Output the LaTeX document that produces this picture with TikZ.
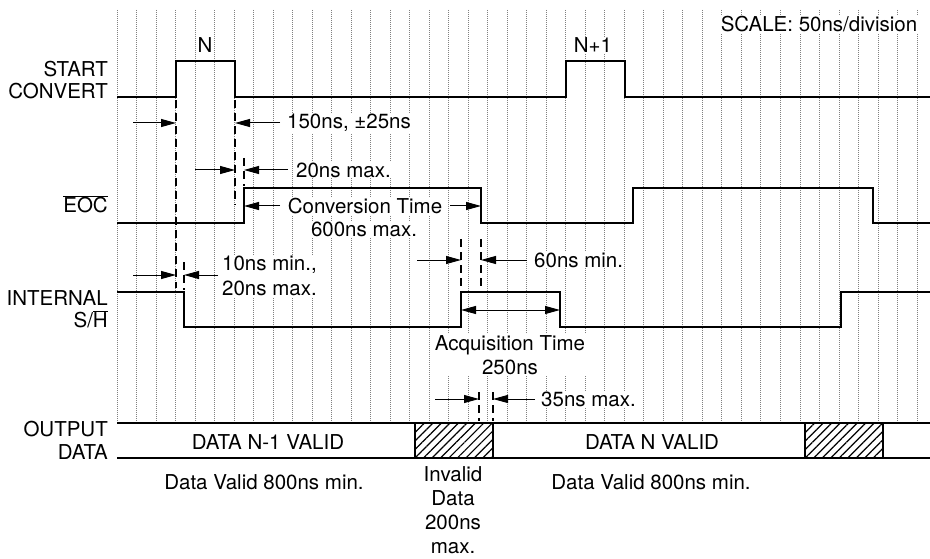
\documentclass[tikz,border=0pt]{standalone}
\usepackage{fontspec}
\setmainfont{TeX Gyre Heros}
\usetikzlibrary{arrows.meta,patterns.meta}
\begin{document}
\begin{tikzpicture}[x=1pt,y=-1pt,
  sig/.style={line width=1.3pt},
  gridln/.style={black!50, line width=0.7pt, dash pattern=on 0.8pt off 1.2pt},
  dsh/.style={line width=1.4pt, dash pattern=on 8pt off 5pt},
  arr/.style={line width=1pt, -{Triangle[length=15pt,width=8pt]}},
  lbl/.style={font=\fontsize{20.5}{22}\selectfont, inner sep=1pt},
  txt/.style={lbl, fill=white},
  hatch/.style={sig, pattern={Lines[angle=45,distance=6pt,line width=1.2pt]}},
  ]
\useasboundingbox (0,0) rectangle (930,559);

% grid
\foreach \i in {0,...,41} \draw[gridln] ({117+19.51*\i},10) -- ({117+19.51*\i},423);

% signals
\draw[sig] (117,97) -- (176,97) -- (176,61) -- (235,61) -- (235,97) -- (566,97) -- (566,61) -- (625,61) -- (625,97) -- (930,97);
\draw[sig] (117,223) -- (244,223) -- (244,188) -- (481,188) -- (481,223) -- (633,223) -- (633,188) -- (873,188) -- (873,223) -- (930,223);
\draw[sig] (117,292) -- (184,292) -- (184,327) -- (461,327) -- (461,292) -- (560,292) -- (560,327) -- (841,327) -- (841,292) -- (930,292);
\draw[sig] (117,423) -- (930,423);
\draw[sig] (117,458) -- (930,458);
\draw[hatch] (415,423) rectangle (493,458);
\draw[hatch] (805,423) rectangle (883,458);

% dashed markers
\draw[dsh] (176,100) -- (176,288);
\draw[dsh] (235,100) -- (235,205);
\draw[dsh] (244,158) -- (244,186);
\draw[dsh] (184,262) -- (184,290);
\draw[dsh] (461,239) -- (461,290);
\draw[dsh] (481,239) -- (481,290);
\draw[dsh] (479,392) -- (479,421);
\draw[dsh] (493,392) -- (493,421);

% row labels
\node[lbl, anchor=east, align=right] at (109,80) {START\\CONVERT};
\node[lbl, anchor=east] at (109,204) {$\overline{\hbox{EOC}}$};
\node[lbl, anchor=east, align=right] at (109,309) {INTERNAL\\S/$\overline{\hbox{H}}$};
\node[lbl, anchor=east, align=right, font=\fontsize{20.5}{23}\selectfont] at (109,440) {OUTPUT\\DATA};

% pulse labels
\node[txt] at (205,45) {N};
\node[txt] at (593,45) {N+1};
\node[txt] at (819,24) {SCALE: 50ns/division};

% timing annotations
\draw[arr] (133,123) -- (176,123);
\draw[arr] (280,123) -- (235,123);
\node[txt, anchor=west] at (286,123) {150ns, ±25ns};

\draw[arr] (195,170) -- (235,170);
\draw[arr] (288,170) -- (244,170);
\node[txt, anchor=west] at (295,170) {20ns max.};

\node[txt] (conv) at (365,206) {Conversion Time};
\draw[arr] (280,206) -- (244,206);
\draw[arr] (450,206) -- (481,206);
\node[txt] at (364,229) {600ns max.};

\draw[arr] (133,275) -- (176,275);
\draw[arr] (218,275) -- (184,275);
\node[txt, anchor=west, align=left, font=\fontsize{20.5}{25}\selectfont] at (221,276) {10ns min.,\\20ns max.};

\draw[arr] (417,260) -- (461,260);
\draw[arr] (527,260) -- (481,260);
\node[txt, anchor=west] at (533,260) {60ns min.};

\draw[line width=1pt, {Triangle[length=15pt,width=8pt]}-{Triangle[length=15pt,width=8pt]}] (461,310) -- (560,310);
\node[txt, align=center, font=\fontsize{20.5}{24}\selectfont] at (510,355) {Acquisition Time\\250ns};

\draw[arr] (435,399) -- (479,399);
\draw[arr] (535,399) -- (493,399);
\node[txt, anchor=west] at (540,399) {35ns max.};

% output data labels
\node[lbl] at (268,442) {DATA N-1 VALID};
\node[lbl] at (652,442) {DATA N VALID};
\node[lbl] at (264,482) {Data Valid 800ns min.};
\node[lbl] at (651,482) {Data Valid 800ns min.};
\node[lbl, align=center, font=\fontsize{20.5}{24}\selectfont] at (453,510) {Invalid\\Data\\200ns\\max.};
\end{tikzpicture}
\end{document}
